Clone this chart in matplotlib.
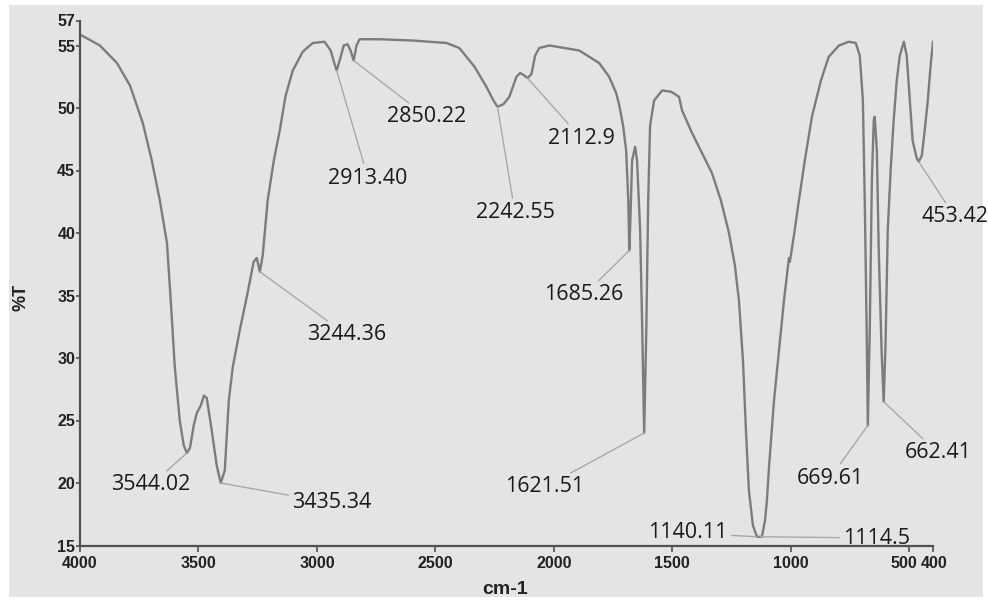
import matplotlib
matplotlib.use('Agg')
import matplotlib.pyplot as plt
from matplotlib.patches import Rectangle
from matplotlib.transforms import ScaledTranslation

# spectrum (cm-1, %T)
wn = [4000, 3992, 3916, 3844, 3789, 3735, 3697, 3663, 3633, 3617, 3600, 3579, 3562,
      3549, 3536, 3520, 3507, 3490, 3477, 3465, 3444, 3423, 3406, 3389, 3372, 3355,
      3326, 3296, 3267, 3254, 3241, 3229, 3208, 3182, 3157, 3132, 3102, 3060, 3018,
      2968, 2942, 2930, 2917, 2904, 2887, 2871, 2858, 2845, 2833, 2820, 2734, 2597,
      2453, 2399, 2369, 2335, 2285, 2255, 2238, 2213, 2188, 2158, 2142, 2125, 2112,
      2095, 2079, 2062, 2019, 1893, 1809, 1767, 1737, 1724, 1708, 1695, 1686, 1682,
      1678, 1670, 1657, 1649, 1636, 1627, 1619, 1610, 1602, 1594, 1577, 1543, 1505,
      1472, 1459, 1417, 1333, 1295, 1261, 1236, 1219, 1202, 1189, 1177, 1160, 1143,
      1122, 1109, 1101, 1092, 1071, 1050, 1029, 1008, 1004, 987, 966, 941, 911, 873,
      840, 797, 755, 726, 709, 696, 688, 680, 675, 667, 658, 650, 646, 637, 629, 617,
      608, 600, 591, 578, 566, 553, 540, 523, 511, 498, 486, 469, 460, 447, 435, 422,
      410, 400]
t = [55.8, 55.8, 55.0, 53.6, 51.8, 48.8, 45.8, 42.6, 39.2, 34.6, 29.3, 25.0, 23.0,
     22.4, 22.8, 24.6, 25.6, 26.2, 27.0, 26.8, 24.2, 21.4, 20.0, 21.0, 26.6, 29.3,
     32.2, 34.9, 37.7, 38.0, 36.9, 38.2, 42.6, 45.8, 48.2, 51.0, 53.0, 54.5, 55.2,
     55.3, 54.6, 53.8, 53.0, 53.8, 55.0, 55.1, 54.6, 53.8, 55.0, 55.5, 55.5, 55.4,
     55.2, 54.8, 54.1, 53.3, 51.7, 50.6, 50.1, 50.3, 50.9, 52.5, 52.8, 52.6, 52.4,
     52.7, 54.2, 54.8, 55.0, 54.6, 53.6, 52.5, 51.2, 50.2, 48.6, 46.6, 42.6, 38.6,
     40.5, 45.8, 46.9, 45.8, 40.2, 32.2, 24.0, 32.2, 42.6, 48.6, 50.6, 51.4, 51.3,
     50.9, 49.8, 48.0, 44.8, 42.6, 40.0, 37.4, 34.6, 29.8, 24.0, 19.4, 16.6, 15.7,
     15.7, 17.0, 18.6, 21.3, 26.6, 30.6, 34.6, 38.0, 37.7, 39.8, 42.6, 45.8, 49.3, 52.2,
     54.1, 55.0, 55.3, 55.2, 54.2, 50.6, 42.6, 32.2, 24.6, 32.2, 44.2, 49.0, 49.3, 46.6,
     38.6, 30.6, 26.5, 31.4, 40.2, 45.3, 49.0, 52.2, 54.2, 55.3, 54.2, 50.6, 47.4,
     46.0, 45.7, 46.2, 48.2, 50.6, 53.4, 55.3]

# marked peaks
peak_labels = ['3544.02', '3435.34', '3244.36', '2913.40', '2850.22', '2242.55', '2112.9',
               '1685.26', '1621.51', '1140.11', '1114.5', '669.61', '662.41', '453.42']
peak_wn = [3549, 3406, 3241, 2917, 2845, 2238, 2112, 1682, 1619, 1143, 1130, 675, 608, 460]
peak_t = [22.4, 20.0, 36.9, 53.0, 53.8, 50.1, 52.4, 38.6, 24.0, 15.7, 15.7, 24.6, 26.5, 45.7]

xticks = [4000, 3500, 3000, 2500, 2000, 1500, 1000, 500, 400]
yticks = [15, 20, 25, 30, 35, 40, 45, 50, 55, 57]

# label centres in image pixels (from top-left)
label_px = [(151, 485), (332, 503), (347, 335), (368, 178), (427, 117), (515, 213),
            (581, 138), (584, 295), (545, 487), (688, 533), (877, 538), (830, 478),
            (938, 453), (955, 217)]

W, H = 988, 602
bg = '#e4e4e4'
tickfont = ['Liberation Sans', 'DejaVu Sans']

fig = plt.figure(figsize=(W / 100, H / 100), dpi=100, facecolor='white')
fig.patches.append(Rectangle((9 / W, 5 / H), (W - 14) / W, (H - 10) / H,
                             transform=fig.transFigure, facecolor=bg,
                             edgecolor='none', zorder=-10))
ax = fig.add_axes([80 / W, 1 - 545.5 / H, 853 / W, 525 / H])
ax.set_facecolor(bg)
ax.patch.set_alpha(0)

ax.plot(wn, t, color='#7c7c7c', lw=1.7, solid_joinstyle='round')
ax.set_xlim(4000, 400)
ax.set_ylim(15, 57)

for s in ['top', 'right']:
    ax.spines[s].set_visible(False)
for s in ['left', 'bottom']:
    ax.spines[s].set_color('#505050')
    ax.spines[s].set_linewidth(1.6)

ax.set_xticks(xticks)
ax.set_xticklabels([str(v) for v in xticks], family=tickfont, fontweight='bold',
                   fontsize=11.5, color='#222222')
ax.set_yticks(yticks)
ax.set_yticklabels([str(v) for v in yticks], family=tickfont, fontweight='bold',
                   fontsize=11.5, color='#222222')
ax.tick_params(axis='x', length=4, width=1.2, color='#505050', pad=3.5)
ax.tick_params(axis='y', length=3, width=1.2, color='#505050', pad=0.5)

# 500 and 400 sit next to each other, nudge them apart a touch
xl = ax.get_xticklabels()
xl[-2].set_transform(xl[-2].get_transform() + ScaledTranslation(-5 / 100, 0, fig.dpi_scale_trans))
xl[-1].set_transform(xl[-1].get_transform() + ScaledTranslation(1 / 100, 0, fig.dpi_scale_trans))

fig.text(505 / W, 1 - 590 / H, 'cm-1', family=tickfont, fontweight='bold',
         fontsize=14, ha='center', va='center', color='#222222')
fig.text(21 / W, 1 - 297 / H, '%T', family=tickfont, fontweight='bold',
         fontsize=13, ha='center', va='center', rotation=90, color='#222222')

for lab, x, y, (px, py) in zip(peak_labels, peak_wn, peak_t, label_px):
    ax.annotate(lab, xy=(x, y), xytext=(px, H - py), textcoords='figure pixels',
                ha='center', va='center', fontsize=15.5, family=['Open Sans', 'DejaVu Sans'],
                color='#1a1a1a', annotation_clip=False,
                arrowprops=dict(arrowstyle='-', color='#a8a8a8', lw=1.0,
                                shrinkA=1, shrinkB=0))

fig.savefig('out.png', dpi=100, facecolor=fig.get_facecolor())
